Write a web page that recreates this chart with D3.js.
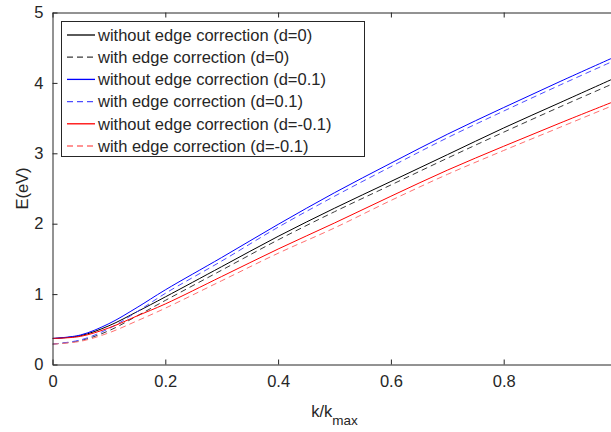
<!DOCTYPE html>
<html>
<head>
<meta charset="utf-8">
<script src="https://cdn.jsdelivr.net/npm/d3@7"></script>
<style>
body { margin:0; background:#fff; }
text { font-family:"Liberation Sans", Arial, sans-serif; fill:#262626; }
</style>
</head>
<body>
<script>
// k/kmax sample points and energies
var kValues=[0,0.05,0.1,0.15,0.2,0.3,0.4,0.5,0.6,0.7,0.8,0.9,1.0];
var blackSolid=[0.37,0.41,0.55,0.75,0.96,1.39,1.82,2.22,2.60,2.98,3.36,3.72,4.08];
var blackDash=[0.29,0.34,0.48,0.69,0.91,1.34,1.77,2.17,2.55,2.93,3.30,3.66,4.01];
var blueSolid=[0.37,0.42,0.58,0.81,1.06,1.52,1.99,2.44,2.86,3.27,3.65,4.02,4.38];
var blueDash=[0.29,0.35,0.51,0.75,1.01,1.47,1.95,2.39,2.81,3.22,3.60,3.97,4.33];
var redSolid=[0.37,0.40,0.52,0.69,0.86,1.25,1.64,2.01,2.39,2.76,3.10,3.43,3.75];
var redDash=[0.29,0.33,0.45,0.62,0.80,1.19,1.58,1.94,2.33,2.70,3.04,3.37,3.70];

var seriesNames=["without edge correction (d=0)","with edge correction (d=0)",
	"without edge correction (d=0.1)","with edge correction (d=0.1)",
	"without edge correction (d=-0.1)","with edge correction (d=-0.1)"];
var seriesData=[blackSolid,blackDash,blueSolid,blueDash,redSolid,redDash];
var seriesColors=["#000000","#3a3a3a","#0000ff","#4d4dff","#ff0000","#ff7070"];
var seriesDashed=[false,true,false,true,false,true];

var xTicks=[0,0.2,0.4,0.6,0.8,1];
var xTickLabels=["0","0.2","0.4","0.6","0.8",""];
var yTicks=[0,1,2,3,4,5];

var width=611, height=432;
var plotLeft=52.5, plotRight=616.5, plotTop=12.5, plotBottom=364.5;
var axisColor="#262626";

var x=d3.scaleLinear().domain([0,1]).range([plotLeft,plotRight]);
var y=d3.scaleLinear().domain([0,5]).range([plotBottom,plotTop]);

var svg=d3.select("body").append("svg").attr("width",width).attr("height",height);

svg.append("defs").append("clipPath").attr("id","plotclip").
	append("rect").attr("x",plotLeft).attr("y",plotTop).
	attr("width",plotRight-plotLeft).attr("height",plotBottom-plotTop);

var line=d3.line().
	x(function(d) {return x(d[0]);}).
	y(function(d) {return y(d[1]);}).
	curve(d3.curveCatmullRom.alpha(0.5));

var curves=svg.append("g").attr("clip-path","url(#plotclip)");
seriesData.forEach(function(s,i) {
	var pts=kValues.map(function(k,j) {return [k,s[j]];});
	curves.append("path").datum(pts).
		attr("d",line).
		attr("fill","none").
		attr("stroke",seriesColors[i]).
		attr("stroke-width",1).
		attr("stroke-dasharray",seriesDashed[i]?"6,4":null);
});

// axes box with inward ticks, matlab style
var bottomAxis=d3.axisBottom(x).tickValues(xTicks).tickSize(-5).tickSizeOuter(0).tickPadding(11).
	tickFormat(function(d,i) {return xTickLabels[i];});
var leftAxis=d3.axisLeft(y).tickValues(yTicks).tickSize(-5).tickSizeOuter(0).tickPadding(9).tickFormat(d3.format("d"));
var topAxis=d3.axisTop(x).tickValues(xTicks).tickSize(-5).tickSizeOuter(0).tickFormat("");
var rightAxis=d3.axisRight(y).tickValues(yTicks).tickSize(-5).tickSizeOuter(0).tickFormat("");

function styleAxis(g) {
	g.selectAll("path,line").attr("stroke",axisColor);
	g.selectAll("text").attr("fill",axisColor).style("font-size","16.5px").
		style("font-family","'Liberation Sans', Arial, sans-serif");
}

svg.append("g").attr("transform","translate(0,"+plotBottom+")").call(bottomAxis).call(styleAxis);
svg.append("g").attr("transform","translate("+plotLeft+",0)").call(leftAxis).call(styleAxis);
svg.append("g").attr("transform","translate(0,"+plotTop+")").call(topAxis).call(styleAxis);
svg.append("g").attr("transform","translate("+plotRight+",0)").call(rightAxis).call(styleAxis);

// axis labels
var xl=svg.append("text").attr("x",(plotLeft+plotRight)/2).attr("y",417).
	attr("text-anchor","middle").style("font-size","16.5px");
xl.append("tspan").text("k/k");
xl.append("tspan").attr("dy",8).style("font-size","13.5px").text("max");

svg.append("text").attr("transform","translate(28,"+((plotTop+plotBottom)/2)+") rotate(-90)").
	attr("text-anchor","middle").style("font-size","16.5px").text("E(eV)");

// legend
var legX=61.5, legY=21.5, legW=303, legH=135, rowH=22.2;
svg.append("rect").attr("x",legX).attr("y",legY).attr("width",legW).attr("height",legH).
	attr("fill","#fff").attr("stroke",axisColor).attr("stroke-width",1);

var rows=svg.selectAll(".legrow").data(seriesNames).enter().append("g").
	classed("legrow",true).
	attr("transform",function(d,i) {return "translate(0,"+(legY+13.5+i*rowH)+")";});
rows.append("line").attr("x1",67).attr("x2",95).attr("y1",0).attr("y2",0).
	attr("stroke",function(d,i) {return seriesColors[i];}).
	attr("stroke-width",1.3).
	attr("stroke-dasharray",function(d,i) {return seriesDashed[i]?"6,4":null;});
rows.append("text").attr("x",98).attr("y",5.8).style("font-size","16.5px").text(function(d) {return d;});
</script>
</body>
</html>
